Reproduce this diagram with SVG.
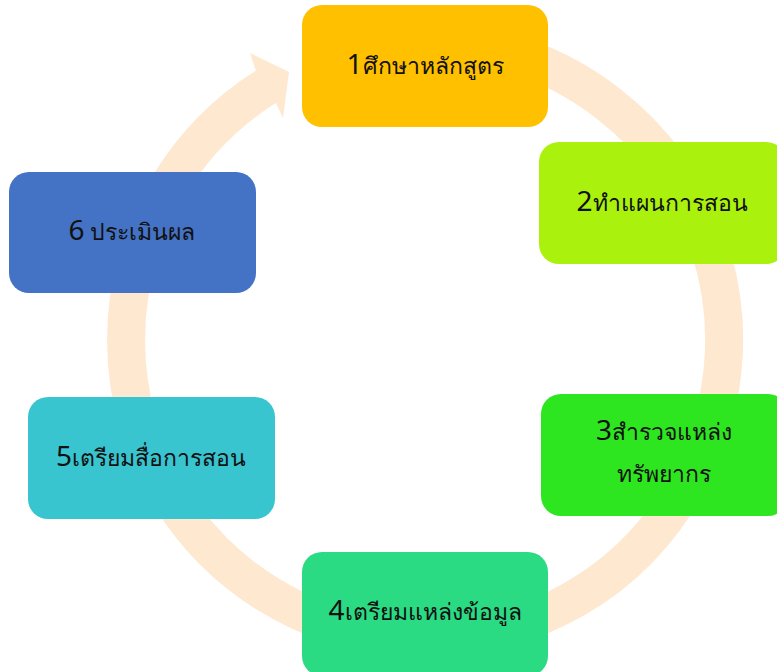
<svg xmlns="http://www.w3.org/2000/svg" width="777" height="672" viewBox="0 0 777 672">
<style>
.ring{fill:none;stroke:#FEE8D0;stroke-width:38}
.head{fill:#FEE8D0}
.box rect{rx:20px;ry:20px}
.lbl{font-family:"Noto Sans","Liberation Sans",sans-serif;font-size:23px;fill:#111;text-anchor:middle}
.num{font-size:28px}
</style>
<g id="connectors">
<path class="ring" d="M 322.7 59 A 299 299 0 1 1 266.1 86.7"/>
<polygon class="head" points="250,53 289,72 283,118 276,103 256,71"/>
</g>
<g id="node1" class="box"><rect x="302" y="5" width="246" height="122" fill="#FFC000"/><text class="lbl" x="425" y="74"><tspan class="num">1</tspan>ศึกษาหลักสูตร</text></g>
<g id="node2" class="box"><rect x="539" y="142" width="247" height="122" fill="#AAF20E"/><text class="lbl" x="662" y="211"><tspan class="num">2</tspan>ทำแผนการสอน</text></g>
<g id="node3" class="box"><rect x="541" y="394" width="247" height="122" fill="#2EE620"/><text class="lbl" x="664" y="440"><tspan class="num">3</tspan>สำรวจแหล่ง</text><text class="lbl" x="664" y="482">ทรัพยากร</text></g>
<g id="node4" class="box"><rect x="302" y="552" width="246" height="124" fill="#2ADB83"/><text class="lbl" x="425" y="620"><tspan class="num">4</tspan>เตรียมแหล่งข้อมูล</text></g>
<g id="node5" class="box"><rect x="28" y="397" width="247" height="122" fill="#38C5D0"/><text class="lbl" x="151" y="466"><tspan class="num">5</tspan>เตรียมสื่อการสอน</text></g>
<g id="node6" class="box"><rect x="9" y="172" width="247" height="121" fill="#4472C4"/><text class="lbl" x="132" y="240"><tspan class="num">6</tspan> ประเมินผล</text></g>
</svg>
